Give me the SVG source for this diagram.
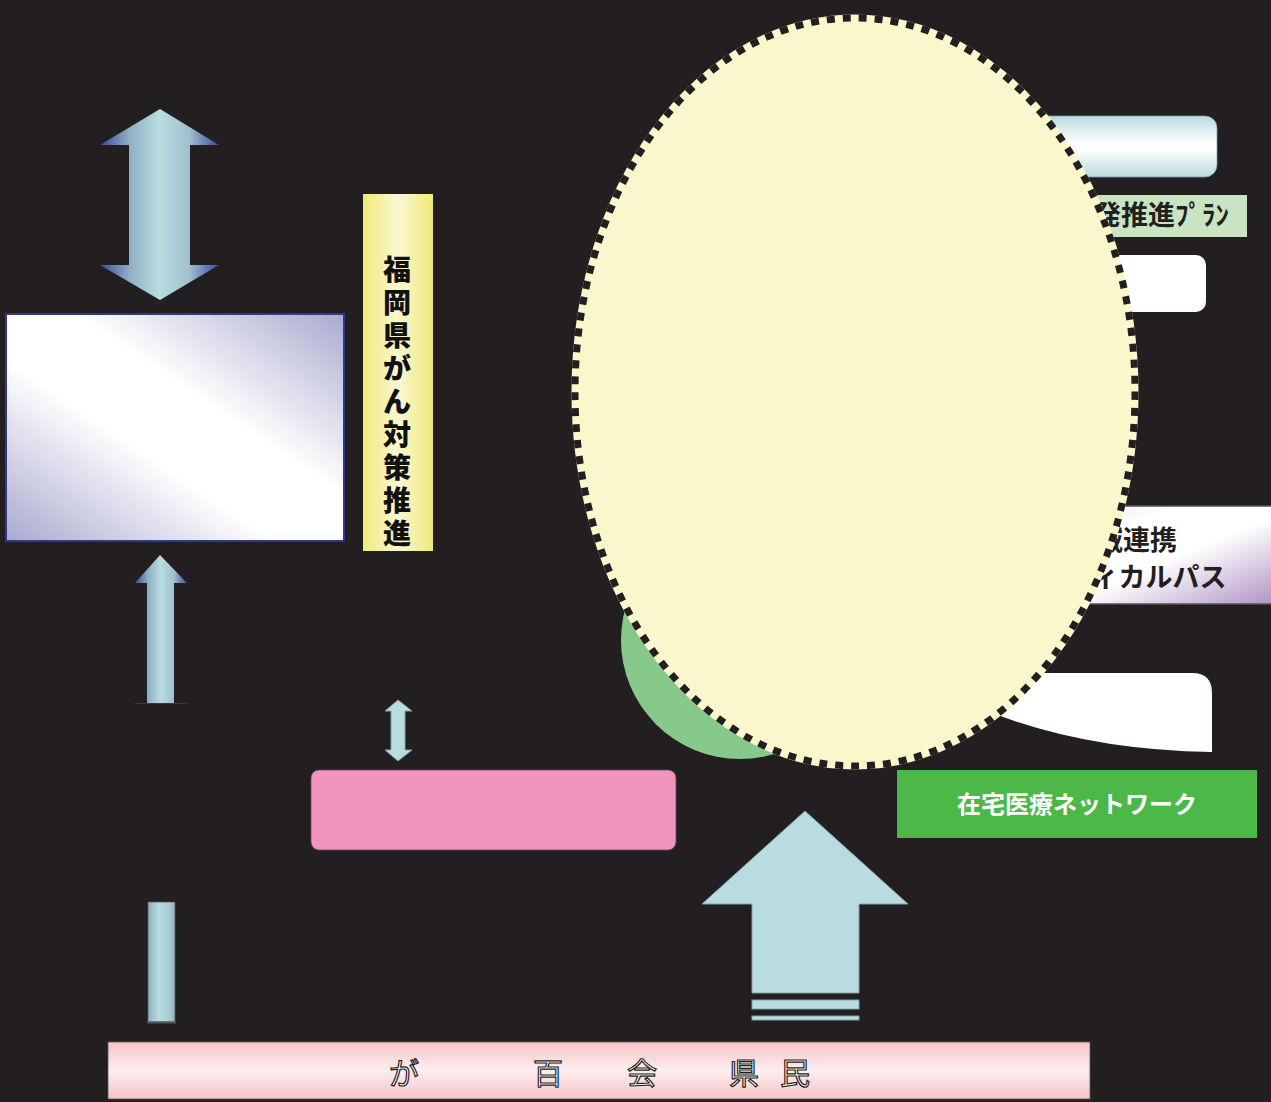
<svg xmlns="http://www.w3.org/2000/svg" width="1271" height="1102" viewBox="0 0 1271 1102">
<defs>
<linearGradient id="gArrow" x1="0" y1="0" x2="1" y2="0">
<stop offset="0" stop-color="#3a4a9c"/><stop offset="0.25" stop-color="#8fb0c4"/><stop offset="0.5" stop-color="#b9dde1"/><stop offset="0.75" stop-color="#9fc0cc"/><stop offset="1" stop-color="#3a4a9c"/>
</linearGradient>
<linearGradient id="gShaft" x1="0" y1="0" x2="1" y2="0">
<stop offset="0" stop-color="#8fb0c0"/><stop offset="0.4" stop-color="#b9dde1"/><stop offset="0.8" stop-color="#a8cad2"/><stop offset="1" stop-color="#8faebd"/>
</linearGradient>
<linearGradient id="gBox" x1="0" y1="1" x2="1" y2="0">
<stop offset="0" stop-color="#a9a9cf"/><stop offset="0.4" stop-color="#ffffff"/><stop offset="0.6" stop-color="#ffffff"/><stop offset="1" stop-color="#a9a9cf"/>
</linearGradient>
<linearGradient id="gYellow" x1="0" y1="0" x2="1" y2="0">
<stop offset="0" stop-color="#f0ea78"/><stop offset="0.5" stop-color="#faf7d2"/><stop offset="1" stop-color="#f0ea78"/>
</linearGradient>
<linearGradient id="gBlue" x1="0" y1="0" x2="0" y2="1">
<stop offset="0" stop-color="#b7dbe0"/><stop offset="0.45" stop-color="#ffffff"/><stop offset="0.55" stop-color="#ffffff"/><stop offset="1" stop-color="#b7dbe0"/>
</linearGradient>
<linearGradient id="gPurple" x1="0" y1="0" x2="1" y2="1">
<stop offset="0" stop-color="#e6dcef"/><stop offset="0.3" stop-color="#ffffff"/><stop offset="0.55" stop-color="#ffffff"/><stop offset="1" stop-color="#b092c4"/>
</linearGradient>
<linearGradient id="gPink" x1="0" y1="0" x2="0" y2="1">
<stop offset="0" stop-color="#f9c3c6"/><stop offset="0.5" stop-color="#fdeeef"/><stop offset="1" stop-color="#f9c3c6"/>
</linearGradient>
<style>
.jp{font-family:"Noto Sans CJK JP","Noto Sans CJK SC",sans-serif;}
.vt{font-size:28px;font-weight:900;fill:#111;text-anchor:middle;}
.dk{font-size:27px;font-weight:700;fill:#231f20;}
.ol{font-size:30px;fill:#fff;stroke:#231f20;stroke-width:1.2;text-anchor:middle;}
.lb{fill:#b9dce0;stroke:#7ea2a8;stroke-width:1;}
</style>
</defs>
<rect width="1271" height="1102" fill="#231f20"/>

<g id="left-double-arrow">
<path d="M160 109 L219 145 L190 145 L190 265 L219 265 L160 300 L100 265 L129 265 L129 145 L100 145 Z" fill="url(#gArrow)"/>
</g>
<g id="left-box">
<rect x="6" y="314" width="338" height="227" fill="url(#gBox)" stroke="#2e3a8f" stroke-width="2"/>
</g>
<g id="left-up-arrow">
<path d="M160 555 L187 583 L174 583 L174 703 L147 703 L147 583 L135 583 Z" fill="url(#gArrow)"/>
<line x1="135" y1="703.5" x2="187" y2="703.5" stroke="#3a3a3a" stroke-width="1"/>
</g>
<g id="left-lower-bar">
<rect x="148" y="902" width="27" height="120" fill="url(#gShaft)" stroke="#555" stroke-width="0.8"/>
<line x1="147" y1="1022.5" x2="176" y2="1022.5" stroke="#555" stroke-width="2"/>
</g>

<g id="plan-bar">
<rect x="363" y="194" width="70" height="357" fill="url(#gYellow)"/>
<g class="jp vt">
<text x="397" y="280">福</text>
<text x="397" y="313">岡</text>
<text x="397" y="346">県</text>
<text x="397" y="379">が</text>
<text x="397" y="412">ん</text>
<text x="397" y="445">対</text>
<text x="397" y="478">策</text>
<text x="397" y="511">推</text>
<text x="397" y="544">進</text>
</g>
</g>

<g id="small-double-arrow">
<path d="M398 700 L412 711 L405 711 L405 750 L412 750 L398 761 L385 750 L391 750 L391 711 L385 711 Z" class="lb"/>
</g>
<g id="pink-box">
<rect x="311" y="770" width="365" height="80" rx="8" fill="#f194be" stroke="#6a4a55" stroke-width="0.8"/>
</g>

<g id="right-boxes">
<rect x="990" y="116" width="227" height="61" rx="12" fill="url(#gBlue)" stroke="#7aa0a8" stroke-width="0.8"/>
<rect x="1060" y="195" width="187" height="42" fill="#c9e4c3"/>
<text x="1094" y="225" class="jp dk" font-size="25">発推進ﾌﾟﾗﾝ</text>
<rect x="1060" y="255" width="146" height="57" rx="10" fill="#ffffff"/>
<rect x="1040" y="506" width="235" height="98" fill="url(#gPurple)"/>
<line x1="1040" y1="506" x2="1271" y2="506" stroke="#555" stroke-width="1.5"/>
<line x1="1040" y1="604" x2="1271" y2="604" stroke="#555" stroke-width="1.5"/>
<text x="1096" y="550" class="jp dk">域連携</text>
<text x="1066" y="587" class="jp dk" font-weight="500">ティカルパス</text>
<path d="M980 673 L1192 673 Q1212 673 1212 693 L1212 752 Q1080 750 980 708 Z" fill="#ffffff"/>
</g>

<g id="green-circle">
<circle cx="740" cy="640" r="119" fill="#86c98b"/>
</g>

<g id="main-ellipse">
<ellipse cx="855" cy="392" rx="280" ry="374" fill="#faf7cd" stroke="#faf7cd" stroke-width="7"/>
<ellipse cx="855" cy="392" rx="280" ry="374" fill="none" stroke="#231f20" stroke-width="7" stroke-dasharray="8 8"/>
</g>

<g id="home-care-network">
<rect x="897" y="770" width="360" height="68" fill="#4cb848"/>
<text x="1077" y="813" class="jp" font-size="24" font-weight="700" fill="#ffffff" text-anchor="middle">在宅医療ネットワーク</text>
</g>

<g id="connectors">
<path d="M805 811 L908 904 L859 904 L859 993 L752 993 L752 904 L702 904 Z" class="lb"/>
<rect x="752" y="1000" width="107" height="9" class="lb"/>
<rect x="752" y="1016" width="107" height="4" class="lb"/>
</g>

<g id="citizens-bar">
<rect x="108" y="1042" width="982" height="57" fill="url(#gPink)" stroke="#555" stroke-width="0.8"/>
<g class="jp ol">
<text x="404" y="1084">が</text>
<text x="548" y="1084">百</text>
<text x="642" y="1084">会</text>
<text x="744" y="1084">県</text>
<text x="795" y="1084">民</text>
</g>
</g>
</svg>
